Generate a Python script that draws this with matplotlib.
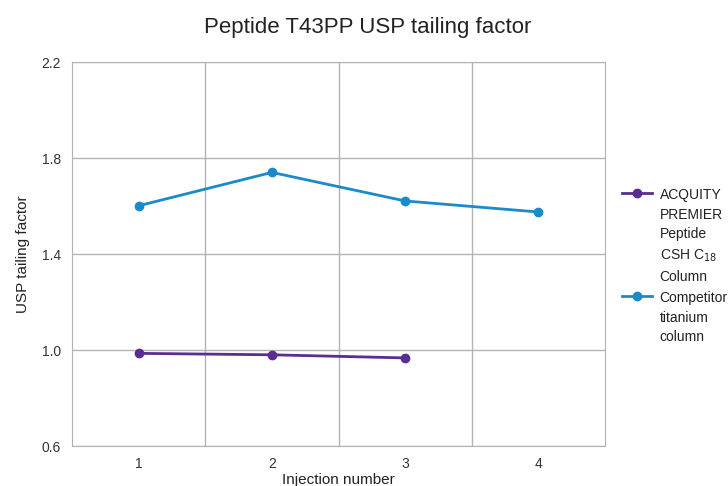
import matplotlib.pyplot as plt
from matplotlib.ticker import FixedLocator

plt.rcParams['font.family'] = ['Liberation Sans', 'DejaVu Sans']

injections = [1, 2, 3, 4]
premier_inj = [1, 2, 3]
premier_vals = [0.986, 0.980, 0.967]
competitor_vals = [1.601, 1.740, 1.621, 1.575]
y_ticks = [0.6, 1.0, 1.4, 1.8, 2.2]

purple = '#5a2d91'
blue = '#1b8ac9'
grid_col = '#b3b3b3'

fig = plt.figure(figsize=(7.28, 4.86), dpi=100)
ax = fig.add_axes([72 / 728, 1 - 446 / 486, (605 - 72) / 728, (446 - 62) / 486])

ax.plot(premier_inj, premier_vals, color=purple, lw=2, marker='o', ms=6,
        label='ACQUITY\nPREMIER\nPeptide\nCSH C$_{18}$\nColumn')
ax.plot(injections, competitor_vals, color=blue, lw=2, marker='o', ms=6,
        label='Competitor\ntitanium\ncolumn')

ax.set_xlim(0.5, 4.5)
ax.set_ylim(0.6, 2.2)
ax.set_xticks(injections)
ax.set_yticks(y_ticks)
ax.set_yticklabels([f'{v:.1f}' for v in y_ticks])
ax.xaxis.set_minor_locator(FixedLocator([1.5, 2.5, 3.5]))
ax.grid(axis='y', which='major', color=grid_col, lw=1)
ax.grid(axis='x', which='minor', color=grid_col, lw=1)
ax.set_axisbelow(True)
ax.tick_params(which='both', length=0, labelsize=10, colors='#333333', pad=8)
for s in ax.spines.values():
    s.set_color(grid_col)

ax.set_xlabel('Injection number', fontsize=11, color='#222222', labelpad=1)
ax.set_ylabel('USP tailing factor', fontsize=11, color='#222222', labelpad=8)
fig.text(0.505, 1 - 28 / 486, 'Peptide T43PP USP tailing factor', fontsize=16,
         color='#222222', ha='center', va='center')

leg = ax.legend(loc='upper left', bbox_to_anchor=(1.032, 0.672), frameon=False,
                fontsize=10, handlelength=2.15, labelspacing=0.52, handletextpad=0.55,
                borderpad=0, borderaxespad=0)
for t in leg.get_texts():
    t.set_linespacing(1.52)
    t.set_color('#222222')
for col in leg._legend_handle_box.get_children():
    for item in col.get_children():
        item.align = 'top'

fig.savefig('out.png', dpi=100)
